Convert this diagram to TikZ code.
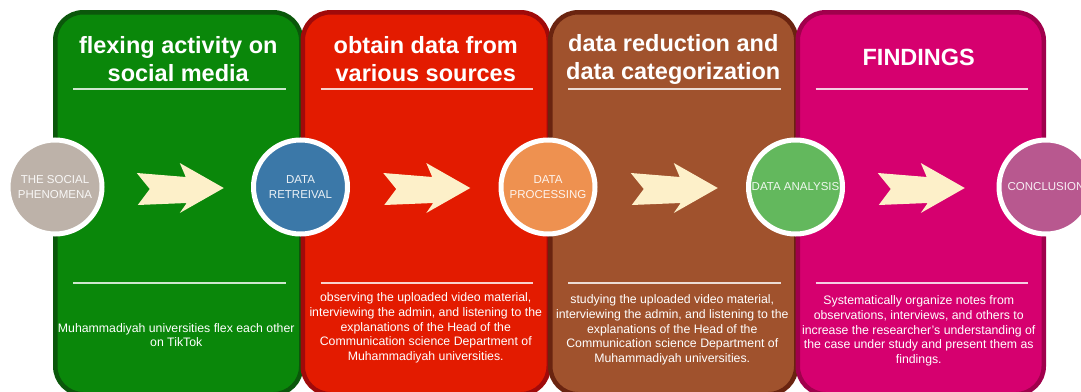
\documentclass[tikz,border=0pt]{standalone}
\usepackage{fontspec}
\setmainfont{Liberation Sans}
\usetikzlibrary{positioning,calc}

\definecolor{greenfill}{HTML}{0A870A}
\definecolor{greenedge}{HTML}{0B570B}
\definecolor{redfill}{HTML}{E31B00}
\definecolor{rededge}{HTML}{A00A0A}
\definecolor{brownfill}{HTML}{A0522D}
\definecolor{brownedge}{HTML}{6A2410}
\definecolor{pinkfill}{HTML}{D6006F}
\definecolor{pinkedge}{HTML}{A0004C}
\definecolor{socialc}{HTML}{BDB2A9}
\definecolor{retrievalc}{HTML}{3B78A8}
\definecolor{processc}{HTML}{EE9150}
\definecolor{analysisc}{HTML}{63B85D}
\definecolor{conclusionc}{HTML}{B8588F}
\definecolor{arrowcream}{HTML}{FDF0C9}

\begin{document}
\begin{tikzpicture}[x=1pt, y=-1pt,
	panel/.style={draw=#1edge, fill=#1fill, line width=4.5pt, rounded corners=28pt, minimum width=246pt, minimum height=382pt},
	stage/.style={circle, draw=white, line width=5pt, minimum size=94pt, inner sep=0pt, align=center, text=white, text opacity=0.9, font=\fontsize{11.5}{14.5}\selectfont},
	head/.style={text=white, align=center, font=\fontsize{23.5}{28}\selectfont\bfseries},
	body/.style={text=white, align=center, font=\fontsize{12.3}{14.8}\selectfont},
	rule/.style={draw=white, draw opacity=0.8, line width=2.2pt},
	flowarrow/.pic={\fill[arrowcream] (-43,-15) -- (6,-11) -- (0,-25) -- (44,0) -- (0,25) -- (7,15) -- (-42,17) -- (-30,1) -- cycle;}]
		\useasboundingbox (0,0) rectangle (1081,391);
		\fill[white] (0,0) rectangle (1081,391);
		\clip (0,0) rectangle (1081,391);

		% the four phases
		\node[panel=green, anchor=north west] (p1) at (53,10) {};
		\node[panel=red, right=-3pt of p1] (p2) {};
		\node[panel=brown, right=-3pt of p2] (p3) {};
		\node[panel=pink, right=-3pt of p3] (p4) {};

		\node[head] (h1) at ($(p1.north)+(0,49)$) {flexing activity on\\social media};
		\node[head] (h2) at ($(p2.north)+(0,49)$) {obtain data from\\various sources};
		\node[head] (h3) at ($(p3.north)+(0,49)$) {data reduction and\\data categorization};
		\node[head] (h4) at ($(p4.north)+(-2,47)$) {FINDINGS};

		\draw[rule] ($(p1.north west)+(20,79)$) -- ($(p1.north east)+(-18,79)$);
		\draw[rule] ($(p2.north west)+(20,79)$) -- ($(p2.north east)+(-18,79)$);
		\draw[rule] ($(p3.north west)+(20,79)$) -- ($(p3.north east)+(-18,79)$);
		\draw[rule] ($(p4.north west)+(20,79)$) -- ($(p4.north east)+(-18,79)$);
		\draw[rule] ($(p1.north west)+(20,273)$) -- ($(p1.north east)+(-18,273)$);
		\draw[rule] ($(p2.north west)+(20,273)$) -- ($(p2.north east)+(-18,273)$);
		\draw[rule] ($(p3.north west)+(20,273)$) -- ($(p3.north east)+(-18,273)$);
		\draw[rule] ($(p4.north west)+(20,273)$) -- ($(p4.north east)+(-18,273)$);

		\node[body] (b1) at ($(p1.north)+(-2,325)$) {Muhammadiyah universities flex each other\\on TikTok};
		\node[body] (b2) at ($(p2.north)+(0,318)$) {observing the uploaded video material,\\interviewing the admin, and listening to the\\explanations of the Head of the\\Communication science Department of\\Muhammadiyah universities.};
		\node[body] (b3) at ($(p3.north)+(-1,320)$) {studying the uploaded video material,\\interviewing the admin, and listening to the\\explanations of the Head of the\\Communication science Department of\\Muhammadiyah universities.};
		\node[body] (b4) at ($(p4.north)+(-2,321)$) {Systematically organize notes from\\observations, interviews, and others to\\increase the researcher's understanding of\\the case under study and present them as\\findings.};

		% stages on the borders
		\node[stage, fill=socialc] (c1) at (55,187) {THE SOCIAL\\PHENOMENA};
		\node[stage, fill=retrievalc] (c2) at (p2.west |- c1) {DATA\\RETREIVAL};
		\node[stage, fill=processc] (c3) at (p3.west |- c1) {DATA\\PROCESSING};
		\node[stage, fill=analysisc] (c4) at (p4.west |- c1) {DATA ANALYSIS};
		\node[stage, fill=conclusionc] (c5) at (p4.east |- c1) {CONCLUSION};

		\pic at ($(c1)!.5!(c2)+(2,1)$) {flowarrow};
		\pic at ($(c2)!.5!(c3)+(2,1)$) {flowarrow};
		\pic at ($(c3)!.5!(c4)+(2,1)$) {flowarrow};
		\pic at ($(c4)!.5!(c5)+(0,1)$) {flowarrow};
	\end{tikzpicture}
\end{document}
